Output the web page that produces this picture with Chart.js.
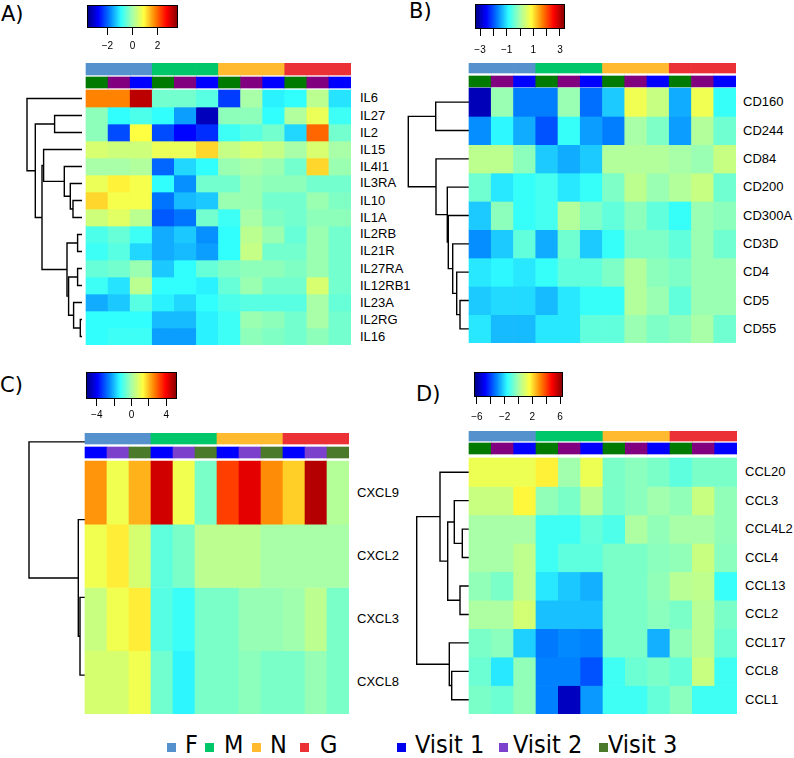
<!DOCTYPE html>
<html>
<head>
<meta charset="utf-8">
<script src="https://cdn.jsdelivr.net/npm/chart.js@4.4.0/dist/chart.umd.min.js"></script>
<style>
body { margin: 0; background: #fff; }
#fig { position: relative; width: 794px; height: 758px; overflow: hidden; background: #fff; }
#fig canvas { position: absolute; }
.tag { position: absolute; font-family: "DejaVu Sans"; font-size: 21px; line-height: 21px; color: #000; white-space: nowrap; }
.row { position: absolute; font-family: "Liberation Sans"; font-size: 13px; line-height: 16px; color: #000; white-space: nowrap; }
.leg { position: absolute; font-family: "DejaVu Sans Condensed", "DejaVu Sans"; font-stretch: condensed; font-size: 25px; line-height: 25px; color: #000; white-space: nowrap; }
.sq { position: absolute; width: 9px; height: 9px; }
</style>
</head>
<body>
<div id="fig">
  <div class="tag" style="left:1px;top:4px">A)</div>
  <div class="tag" style="left:409px;top:1px">B)</div>
  <div class="tag" style="left:0px;top:375px">C)</div>
  <div class="tag" style="left:416px;top:384px">D)</div>
</div>
<script>
/* column annotations, same for every panel */
const groups = ['F', 'F', 'F', 'M', 'M', 'M', 'N', 'N', 'N', 'G', 'G', 'G'];
const visitsABD = [3, 2, 1, 3, 2, 1, 3, 2, 1, 3, 2, 1];
const visitsC = [1, 2, 3, 1, 2, 3, 1, 2, 3, 1, 2, 3];
const groupNames = ['F', 'M', 'N', 'G'];
const visitNames = ['Visit 1', 'Visit 2', 'Visit 3'];

/* A) interleukins */
const aGenes = ['IL6', 'IL27', 'IL2', 'IL15', 'IL4I1', 'IL3RA', 'IL10', 'IL1A', 'IL2RB', 'IL21R', 'IL27RA', 'IL12RB1', 'IL23A', 'IL2RG', 'IL16'];
const aValues = [
    [1.8, 1.8, 3.2, -0.4, -0.4, -0.6, -2.3, 0.0, -1.0, -0.9, 0.2, -1.1],
    [-0.2, -0.9, -0.7, -0.9, -1.6, -3.2, -0.2, -0.2, -0.9, 0.1, 0.7, -0.8],
    [-0.2, -2.2, 0.9, -2.2, -2.7, -2.4, -0.8, -0.6, -0.4, -1.2, 2.0, -0.4],
    [0.5, 0.4, 0.4, 0.7, 0.7, 1.2, 0.3, 0.5, 0.3, 0.0, 0.5, 0.0],
    [0.0, 0.0, 0.1, -2.0, -1.2, -0.9, -0.1, 0.0, -0.1, -0.4, 1.2, -0.1],
    [0.7, 1.0, 0.8, -0.9, -1.7, -0.4, -0.4, -0.1, -0.2, -0.2, -0.4, -0.4],
    [1.2, 0.8, 0.8, -1.9, -1.4, -1.3, -0.1, -0.1, -0.4, -0.4, -0.1, -0.3],
    [0.4, 0.6, 0.2, -2.1, -1.9, -0.4, -0.8, 0.0, -0.3, -0.4, -0.2, -0.2],
    [-0.7, -0.5, -0.8, -1.5, -1.3, -1.7, -0.9, 0.2, -0.1, -0.5, -0.1, -0.4],
    [-0.8, -0.6, -1.2, -1.5, -1.4, -1.6, -0.9, 0.3, -0.4, -0.4, -0.1, -0.4],
    [-0.5, -0.4, -0.1, -1.3, -0.9, -0.5, -0.3, -0.2, -0.2, -0.3, -0.1, -0.4],
    [-0.8, -1.1, 0.2, -0.9, -0.9, -1.0, -0.5, -0.1, -0.4, -0.4, 0.5, -0.4],
    [-1.5, -1.3, -0.6, -1.0, -1.2, -0.9, -0.7, -0.6, -0.6, -0.6, 0.0, -0.5],
    [-0.9, -0.9, -0.9, -1.4, -1.4, -1.0, -0.8, -0.1, -0.2, -0.4, 0.0, -0.4],
    [-0.9, -0.8, -0.8, -1.6, -1.6, -1.0, -0.8, -0.2, -0.3, -0.4, -0.2, -0.4]
];
// merges: [a, b, height]; a leaf is its row index, merge k is rows + k
const aMerges = [[13, 14, 1.7], [8, 9, 4.4], [10, 11, 4.4], [12, 15, 8.4], [6, 7, 9], [5, 19, 11.7], [17, 18, 13.4],
    [16, 21, 15], [4, 20, 17.7], [1, 2, 27.4], [3, 23, 38.4], [25, 22, 40], [24, 26, 46.7], [0, 27, 55]];
const aRange = 3.63;
const aKeyTicks = [-2, 0, 2];
const aKeyLabels = [-2, 0, 2];

/* B) surface markers */
const bGenes = ['CD160', 'CD244', 'CD84', 'CD200', 'CD300A', 'CD3D', 'CD4', 'CD5', 'CD55'];
const bValues = [
    [-3.0, -0.1, -1.7, -1.7, -0.1, -1.8, -1.2, 0.7, 0.3, -1.4, 0.7, -0.8],
    [-1.6, -0.9, -1.4, -2.0, -0.8, -1.5, -1.7, 0.0, -0.3, -1.5, 0.1, -0.4],
    [0.2, 0.2, -0.2, -1.2, -1.4, -1.2, 0.1, 0.1, 0.1, 0.0, -0.1, 0.3],
    [-0.4, -1.0, -0.8, -0.7, -1.0, -0.8, -0.3, 0.2, -0.1, 0.1, 0.3, -0.4],
    [-1.2, -0.2, -0.8, -0.7, 0.1, -0.3, -0.5, -0.2, -0.5, -0.8, -0.1, -0.2],
    [-1.6, -1.2, -0.5, -1.4, -0.4, -1.2, -0.8, -0.3, -0.3, -0.5, -0.1, -0.4],
    [-1.0, -0.9, -1.0, -0.8, -0.5, -0.5, -0.3, 0.1, -0.2, -0.3, -0.1, -0.1],
    [-1.2, -1.1, -1.1, -1.3, -1.0, -0.8, -0.8, 0.1, -0.1, -0.5, -0.1, -0.1],
    [-1.0, -1.3, -1.3, -1.0, -1.0, -0.5, -0.5, -0.1, -0.3, -0.2, 0.0, -0.4]
];
const bMerges = [[7, 8, 9], [6, 9, 12.3], [5, 10, 16.3], [4, 11, 20.7], [3, 12, 21.7], [0, 1, 33.3], [2, 13, 33], [14, 15, 60.7]];
const bRange = 3.38;
const bKeyTicks = [-3, -2, -1, 0, 1, 2, 3];
const bKeyLabels = [-3, -1, 1, 3];

/* C) CXC chemokines */
const cGenes = ['CXCL9', 'CXCL2', 'CXCL3', 'CXCL8'];
const cValues = [
    [2.4, 1.1, 2.1, 4.4, 1.1, -0.5, 3.3, 4.2, 2.5, 1.8, 4.7, 0.2],
    [1.1, 1.5, 0.7, -0.8, -0.5, 0.3, 0.3, 0.3, 0.0, 0.0, 0.0, 0.0],
    [0.5, 1.1, 1.5, -0.9, -1.2, -0.5, -0.5, -0.2, -0.2, -0.1, 0.3, -0.5],
    [0.7, 0.7, 1.1, -0.6, -1.4, -0.5, -0.5, -0.3, -0.5, -0.5, -0.2, -0.5]
];
const cMerges = [[2, 3, 5], [1, 4, 6.7], [0, 5, 56]];
const cRange = 5.24;
const cKeyTicks = [-4, -2, 0, 2, 4];
const cKeyLabels = [-4, 0, 4];

/* D) CC chemokines */
const dGenes = ['CCL20', 'CCL3', 'CCL4L2', 'CCL4', 'CCL13', 'CCL2', 'CCL17', 'CCL8', 'CCL1'];
const dValues = [
    [1.3, 1.3, 1.3, 1.8, -0.1, 1.3, -0.6, -0.4, -0.6, -1.0, -0.6, -0.6],
    [0.6, 0.6, 1.7, -0.3, -0.6, 0.3, -0.6, -0.4, -0.1, -0.3, 0.6, -0.3],
    [0.0, 0.0, 0.0, -1.4, -1.4, -0.9, -1.2, 0.1, -0.3, 0.0, 0.0, -0.3],
    [0.0, 0.0, 0.4, -1.4, -1.0, -1.0, -0.6, -0.6, -0.4, -0.3, 0.6, -0.4],
    [-0.3, -0.6, 0.4, -1.9, -2.3, -2.6, -0.6, -0.6, -0.3, 0.3, 0.4, -1.5],
    [0.1, 0.1, 0.8, -2.4, -2.4, -2.4, -0.6, -0.6, -0.4, -0.6, 0.3, -0.6],
    [-0.6, -0.4, -2.2, -3.3, -3.1, -3.2, -0.6, -0.6, -2.6, -0.3, 0.3, -0.8],
    [-0.8, -1.9, -0.3, -3.2, -3.2, -3.8, -1.4, -0.8, -0.6, -0.9, 0.6, -1.4],
    [-0.6, -0.8, -0.3, -3.2, -5.6, -2.9, -1.4, -1.4, -0.9, -0.4, -1.4, -1.4]
];
const dMerges = [[2, 3, 6.7], [4, 5, 9], [1, 9, 14.7], [7, 8, 17.3], [6, 12, 19.7], [11, 10, 21.3], [0, 14, 29], [15, 13, 52.3]];
const dRange = 6.42;
const dKeyTicks = [-6, -4, -2, 0, 2, 4, 6];
const dKeyLabels = [-6, -2, 2, 6];

/* colours: jet-like ramp, a little paler round the middle as in the figure */
const rampStops = ['#00007f', '#0000ff', '#0080ff', '#30ffff', '#a8ffa8', '#ffff40', '#ff8000', '#ff0000', '#7f0000'];
const groupColors = { F: '#5592cd', M: '#00c86a', N: '#ffba30', G: '#eb3136' };
const visitDark = { 1: '#0000ff', 2: '#800080', 3: '#007a00' };
const visitSoft = { 1: '#0000ff', 2: '#7b40cc', 3: '#4a7a2a' };
const legendVisit = { 1: '#0000ee', 2: '#7b40cc', 3: '#4a7a2a' };

const hexRgb = (h) => [1, 3, 5].map(i => parseInt(h.substr(i, 2), 16));
const ramp = (t) => {
    t = Math.max(0, Math.min(1, t));
    const p = t * 8;
    const i = Math.min(7, Math.floor(p));
    const f = p - i;
    const a = hexRgb(rampStops[i]), b = hexRgb(rampStops[i + 1]);
    return 'rgb(' + a.map((v, k) => Math.round(v + (b[k] - v) * f)).join(',') + ')';
};
const minus = (v) => v < 0 ? '\u2212' + (-v) : String(v);

Chart.defaults.font.family = 'Liberation Sans';
Chart.defaults.color = '#000';

const fig = document.getElementById('fig');
const addCanvas = (left, top, w, h) => {
    const cv = document.createElement('canvas');
    cv.width = w;
    cv.height = h;
    cv.style.left = left + 'px';
    cv.style.top = top + 'px';
    fig.appendChild(cv);
    return cv;
};
const addText = (cls, text, left, top) => {
    const el = document.createElement('div');
    el.className = cls;
    el.style.left = left + 'px';
    el.style.top = top + 'px';
    el.textContent = text;
    fig.appendChild(el);
    return el;
};

/* walks the merge list and returns one U-shaped path per merge: [height, leafPosition] pairs */
const dendroPaths = (n, merges) => {
    const pos = [], hgt = [];
    for (let i = 0; i < n; i++) { pos[i] = i; hgt[i] = 0; }
    return merges.map(([a, b, h], k) => {
        pos[n + k] = (pos[a] + pos[b]) / 2;
        hgt[n + k] = h;
        return [[hgt[a], pos[a]], [h, pos[a]], [h, pos[b]], [hgt[b], pos[b]]];
    });
};

const heatmap = (genes, values, merges, range, visits, visitColors, g) => {
    const top = g.grp[0];
    const colW = (g.heatRight - g.heatLeft) / 12;
    const left = Math.floor(g.heatLeft - 3 * colW);
    const width = g.heatRight - left;
    const height = g.heatBottom - top;
    const rowH = (g.heatBottom - g.heatTop) / genes.length;
    const toRow = (px) => (px - g.heatTop) / rowH;
    const dSp = (g.dBottom - g.dTop) / genes.length;

    const band = (vals, colors) => ({
        type: 'bar', data: groups.map((_, c) => ({ x: c + 0.5, y: vals })),
        backgroundColor: colors, grouped: false, barThickness: colW, borderWidth: 0
    });
    const datasets = values.map((row, r) => band([r, r + 1], row.map(v => ramp((v + range) / (2 * range)))));
    datasets.push(band([toRow(g.grp[0]), toRow(g.grp[1])], groups.map(x => groupColors[x])));
    datasets.push(band([toRow(g.vis[0]), toRow(g.vis[1])], visits.map(v => visitColors[v])));
    dendroPaths(genes.length, merges).forEach(path => datasets.push({
        type: 'line', yAxisID: 'yd', clip: false, tension: 0, pointRadius: 0,
        borderColor: '#000', borderWidth: 1.4, fill: false,
        data: path.map(([h, p]) => ({ x: -(g.gap + h) / colW, y: p }))
    }));

    const cv = addCanvas(left, top, width, height);
    const chart = new Chart(cv, {
        type: 'bar',
        data: { datasets },
        options: {
            responsive: false, animation: false, events: [],
            layout: { autoPadding: false },
            plugins: { legend: { display: false }, tooltip: { enabled: false } },
            scales: {
                x: { type: 'linear', offset: false, min: -(g.heatLeft - left) / colW, max: 12, display: false, bounds: 'data' },
                y: { type: 'linear', reverse: true, display: false, bounds: 'data', min: toRow(top), max: genes.length },
                yd: {
                    type: 'linear', reverse: true, display: false, bounds: 'data',
                    min: -0.5 + (top - g.dTop) / dSp, max: -0.5 + (g.heatBottom - g.dTop) / dSp
                }
            }
        }
    });
    // row names sit next to the rows, placed through the chart's own y scale
    genes.forEach((name, i) => {
        const cy = top + chart.scales.y.getPixelForValue(i + 0.5);
        addText('row', name, g.heatRight + g.pad, Math.round(cy - 8));
    });
};

const colourKey = (range, ticks, labels, k) => {
    const axisH = 40, padX = 14;
    const cv = addCanvas(k.left - padX, k.top, k.right - k.left + 2 * padX, k.bottom - k.top + axisH);
    new Chart(cv, {
        type: 'bar',
        data: {
            labels: [''],
            datasets: [{
                data: [[-range, range]], barPercentage: 1, categoryPercentage: 1,
                borderColor: '#000', borderWidth: 1, borderSkipped: false, inflateAmount: 0,
                backgroundColor: (ctx) => {
                    const ca = ctx.chart.chartArea;
                    if (!ca) return '#fff';
                    const grad = ctx.chart.ctx.createLinearGradient(ca.left, 0, ca.right, 0);
                    rampStops.forEach((c, i) => grad.addColorStop(i / 8, c));
                    return grad;
                }
            }]
        },
        options: {
            indexAxis: 'y', responsive: false, animation: false, events: [],
            layout: { padding: { left: padX, right: padX } },
            plugins: { legend: { display: false }, tooltip: { enabled: false } },
            scales: {
                x: {
                    type: 'linear', min: -range, max: range,
                    afterBuildTicks: s => { s.ticks = ticks.map(v => ({ value: v })); },
                    ticks: { autoSkip: false, maxRotation: 0, padding: k.pad, font: { size: 10 },
                        callback: v => labels.includes(v) ? minus(v) : '' },
                    grid: { drawOnChartArea: false, drawTicks: true, tickLength: 7, color: '#000', lineWidth: 1 },
                    border: { display: false },
                    afterFit: s => { s.height = axisH; s.paddingLeft = 0; s.paddingRight = 0; }
                },
                y: { display: false }
            }
        }
    });
};

heatmap(aGenes, aValues, aMerges, aRange, visitsABD, visitDark,
    { heatLeft: 86, heatRight: 351, heatTop: 90, heatBottom: 345, grp: [63, 75], vis: [77, 88], gap: 4, pad: 9, dTop: 90, dBottom: 345 });
heatmap(bGenes, bValues, bMerges, bRange, visitsABD, visitDark,
    { heatLeft: 469, heatRight: 736, heatTop: 88, heatBottom: 343, grp: [63, 73], vis: [76, 87], gap: 0, pad: 7, dTop: 88, dBottom: 343 });
heatmap(cGenes, cValues, cMerges, cRange, visitsC, visitSoft,
    { heatLeft: 85, heatRight: 349, heatTop: 461, heatBottom: 714, grp: [433, 444], vis: [447, 458], gap: 0, pad: 8, dTop: 403, dBottom: 714 });
heatmap(dGenes, dValues, dMerges, dRange, visitsABD, visitDark,
    { heatLeft: 469, heatRight: 737, heatTop: 458, heatBottom: 714, grp: [431, 441], vis: [443, 454], gap: 0, pad: 8, dTop: 458, dBottom: 714 });

colourKey(aRange, aKeyTicks, aKeyLabels, { left: 87, right: 178, top: 5, bottom: 28, pad: 5 });
colourKey(bRange, bKeyTicks, bKeyLabels, { left: 475, right: 565, top: 4, bottom: 29, pad: 8 });
colourKey(cRange, cKeyTicks, cKeyLabels, { left: 86, right: 177, top: 372, bottom: 399, pad: 3 });
colourKey(dRange, dKeyTicks, dKeyLabels, { left: 474, right: 563, top: 372, bottom: 397, pad: 7 });

/* bottom legend */
const legendItems = [
    [groupNames[0], groupColors.F, 167, 185], [groupNames[1], groupColors.M, 205, 224],
    [groupNames[2], groupColors.N, 252, 270], [groupNames[3], groupColors.G, 300, 320],
    [visitNames[0], legendVisit[1], 397, 415], [visitNames[1], legendVisit[2], 499, 513],
    [visitNames[2], legendVisit[3], 599, 608]
];
legendItems.forEach(([text, color, sqX, txtX]) => {
    const sq = document.createElement('div');
    sq.className = 'sq';
    sq.style.left = sqX + 'px';
    sq.style.top = '743px';
    sq.style.background = color;
    fig.appendChild(sq);
    addText('leg', text, txtX, 732);
});
</script>
</body>
</html>
